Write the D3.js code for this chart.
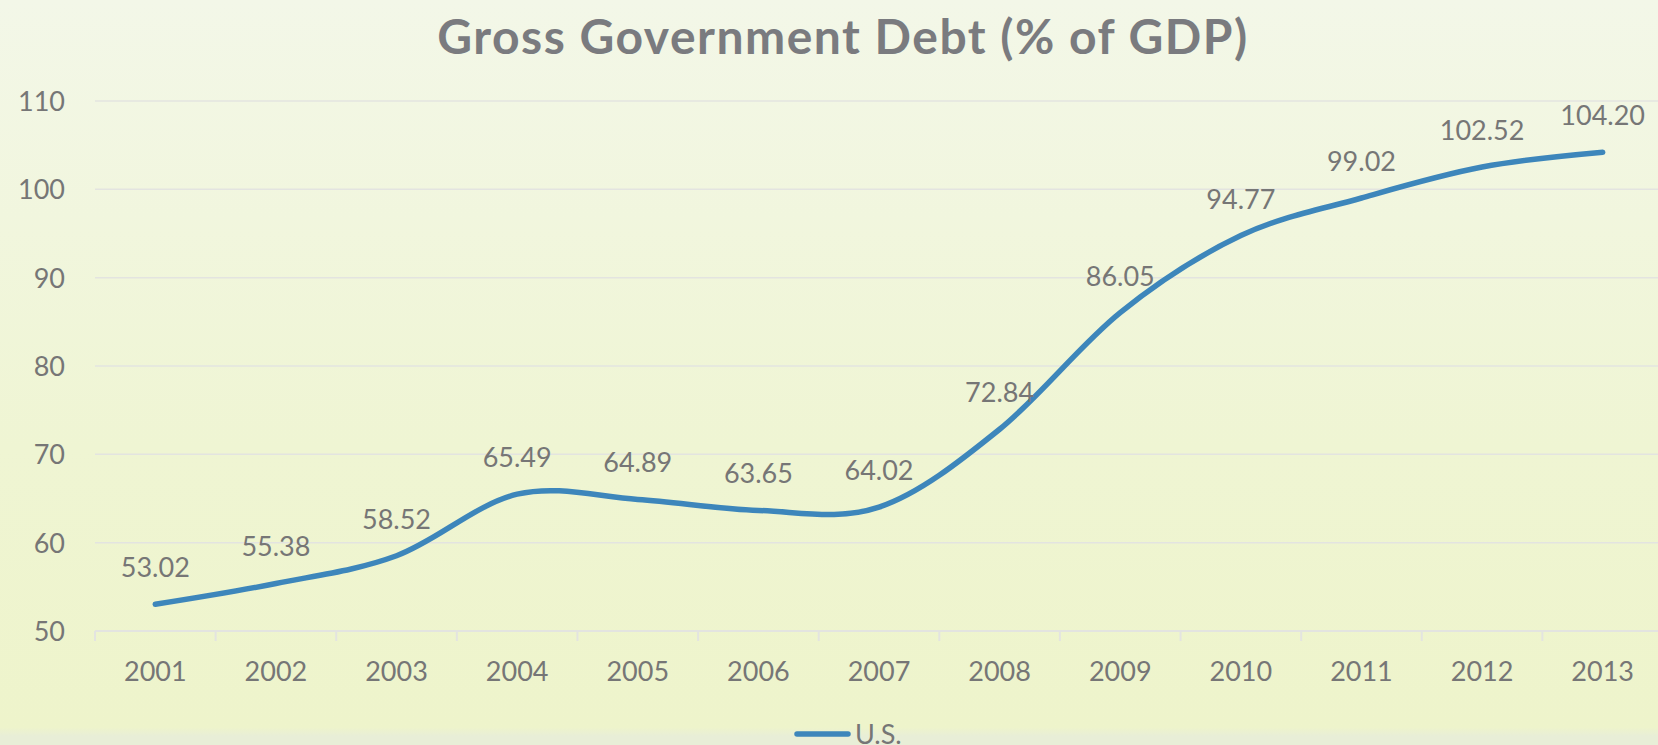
<!DOCTYPE html>
<html>
<head>
<meta charset="utf-8">
<script src="https://cdn.jsdelivr.net/npm/d3@7"></script>
<style>
  html, body { margin: 0; padding: 0; overflow: hidden; }
  svg { display: block; }
</style>
</head>
<body>
<svg id="chart" width="1658" height="745"></svg>
<script>
const title = "Gross Government Debt (% of GDP)";
const years = ["2001","2002","2003","2004","2005","2006","2007","2008","2009","2010","2011","2012","2013"];
const usDebt = [53.02, 55.38, 58.52, 65.49, 64.89, 63.65, 64.02, 72.84, 86.05, 94.77, 99.02, 102.52, 104.20];
const yTicks = [50, 60, 70, 80, 90, 100, 110];
const seriesName = "U.S.";

const W = 1658, H = 745;
const svg = d3.select("#chart");
const defs = svg.append("defs");
const grad = defs.append("linearGradient").attr("id","bg").attr("x1",0).attr("y1",0).attr("x2",0).attr("y2",1);
grad.append("stop").attr("offset","0%").attr("stop-color","#f3f7e8");
grad.append("stop").attr("offset","60%").attr("stop-color","#eff5d3");
grad.append("stop").attr("offset","97.6%").attr("stop-color","#eef4cb");
grad.append("stop").attr("offset","98.8%").attr("stop-color","#e8eed7");
grad.append("stop").attr("offset","100%").attr("stop-color","#e8eed7");
svg.append("rect").attr("width",W).attr("height",H).attr("fill","url(#bg)");

const x = d3.scaleBand().domain(years).range([95, 1663]);
const y = d3.scaleLinear().domain([50, 110]).range([631, 101]);

const textColor = "#767676";
const font = "Lato, 'Open Sans', sans-serif";

// gridlines
svg.append("g").selectAll("line").data(yTicks.filter(d => d !== 50)).join("line")
  .attr("x1", 95).attr("x2", W)
  .attr("y1", d => y(d)).attr("y2", d => y(d))
  .attr("stroke", "#e3e4e0").attr("stroke-width", 1.5);

// y axis labels
const yAxis = d3.axisLeft(y).tickValues(yTicks).tickSize(0).tickPadding(0);
const gy = svg.append("g").attr("transform", "translate(65,0)").call(yAxis);
gy.select(".domain").remove();
gy.selectAll("text").attr("font-family", font).attr("font-size", 27).attr("fill", textColor).attr("dy","0.35em");

// x axis
const gx = svg.append("g").attr("transform", `translate(0,${y(50)})`);
gx.append("line").attr("x1", 95).attr("x2", W).attr("stroke", "#e3e4e0").attr("stroke-width", 2);
gx.selectAll("line.tick").data(years).join("line").attr("class","tick")
  .attr("x1", d => x(d)).attr("x2", d => x(d)).attr("y1", 0).attr("y2", 10)
  .attr("stroke", "#e3e4e0").attr("stroke-width", 2);
gx.selectAll("text").data(years).join("text")
  .attr("x", d => x(d) + x.bandwidth()/2).attr("y", 50)
  .attr("text-anchor","middle").attr("font-family", font).attr("font-size", 27).attr("fill", textColor)
  .text(d => d);

// line
const pts = years.map((yr, i) => ({yr, v: usDebt[i]}));
const line = d3.line().x(d => x(d.yr) + x.bandwidth()/2).y(d => y(d.v)).curve(d3.curveCardinal.tension(0));
svg.append("path").datum(pts).attr("d", line)
  .attr("fill","none").attr("stroke","#3d86bb").attr("stroke-width",5.5)
  .attr("stroke-linecap","round").attr("stroke-linejoin","round");

// data labels
svg.append("g").selectAll("text").data(pts).join("text")
  .attr("x", d => x(d.yr) + x.bandwidth()/2).attr("y", d => y(d.v) - 27)
  .attr("text-anchor","middle").attr("font-family", font).attr("font-size", 27).attr("fill", textColor)
  .text(d => d.v.toFixed(2));

// title
svg.append("text").attr("x", 843).attr("y", 54).attr("text-anchor","middle")
  .attr("font-family", font).attr("font-weight","bold").attr("font-size", 48)
  .attr("letter-spacing", 1.5).attr("fill", "#7a7b7f")
  .text(title);

// legend
svg.append("line").attr("x1", 797).attr("x2", 848).attr("y1", 734).attr("y2", 734)
  .attr("stroke","#3d86bb").attr("stroke-width",5.5).attr("stroke-linecap","round");
svg.append("text").attr("x", 855).attr("y", 744).attr("font-family", font).attr("font-size", 27).attr("fill", textColor).text(seriesName);
</script>
</body>
</html>
